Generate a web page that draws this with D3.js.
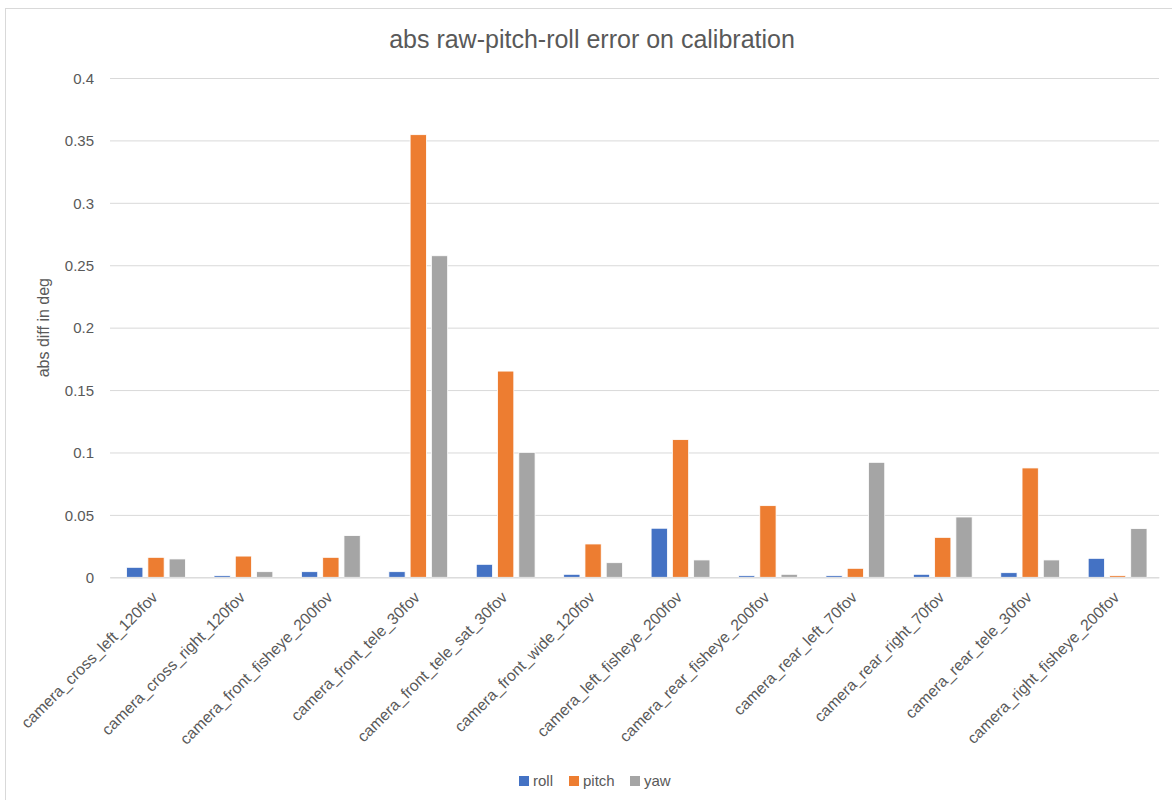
<!DOCTYPE html>
<html>
<head>
<meta charset="utf-8">
<script src="https://cdn.jsdelivr.net/npm/d3@7"></script>
<style>
  html, body { margin: 0; padding: 0; background: #fff; }
  svg { display: block; }
  text { font-family: "Liberation Sans", Arial, sans-serif; fill: #595959; }
</style>
</head>
<body>
<svg id="chart" width="1172" height="800"></svg>
<script>
const categories = [
  "camera_cross_left_120fov",
  "camera_cross_right_120fov",
  "camera_front_fisheye_200fov",
  "camera_front_tele_30fov",
  "camera_front_tele_sat_30fov",
  "camera_front_wide_120fov",
  "camera_left_fisheye_200fov",
  "camera_rear_fisheye_200fov",
  "camera_rear_left_70fov",
  "camera_rear_right_70fov",
  "camera_rear_tele_30fov",
  "camera_right_fisheye_200fov"
];
const seriesNames = ["roll", "pitch", "yaw"];
const roll  = [0.008, 0.0013, 0.0045, 0.0045, 0.0104, 0.0024, 0.0393, 0.0013, 0.0013, 0.0024, 0.0037, 0.0152];
const pitch = [0.016, 0.017, 0.016, 0.3546, 0.1652, 0.0267, 0.1103, 0.0574, 0.0072, 0.032, 0.0876, 0.0013];
const yaw   = [0.0147, 0.0045, 0.0334, 0.2576, 0.1001, 0.0117, 0.0139, 0.0024, 0.0921, 0.0483, 0.0139, 0.039];
const yTicks = [0, 0.05, 0.1, 0.15, 0.2, 0.25, 0.3, 0.35, 0.4];
const yTickLabels = ["0", "0.05", "0.1", "0.15", "0.2", "0.25", "0.3", "0.35", "0.4"];
const colors = ["#4472C4", "#ED7D31", "#A5A5A5"];
const title = "abs raw-pitch-roll error on calibration";
const yTitle = "abs diff in deg";

const values = [roll, pitch, yaw];
const svg = d3.select("#chart");

// outer frame
svg.append("rect").attr("x", 5.5).attr("y", 8.5).attr("width", 1180).attr("height", 800)
  .attr("fill", "none").attr("stroke", "#d9d9d9").attr("stroke-width", 1);

const plot = { left: 110, right: 1159, top: 78, bottom: 577.3 };

const x = d3.scaleBand().domain(categories).range([plot.left, plot.right]).paddingInner(0).paddingOuter(0);
const y = d3.scaleLinear().domain([0, 0.4]).range([plot.bottom, plot.top]);
const barW = 15, barStep = 19.6;
const xs = d3.scaleBand().domain(seriesNames).range([0, barStep * 3]).paddingInner((barStep - barW) / barStep).paddingOuter(0);

// gridlines
const yAxis = d3.axisLeft(y).tickValues(yTicks).tickFormat((d, i) => yTickLabels[i])
  .tickSize(-(plot.right - plot.left)).tickPadding(16);
const gy = svg.append("g").attr("transform", `translate(${plot.left},0)`).call(yAxis);
gy.select(".domain").remove();
gy.selectAll(".tick line").attr("stroke", "#d9d9d9").attr("stroke-width", 1);
gy.selectAll(".tick text").style("font-size", "15px").attr("fill", "#595959").attr("dy", "0.35em");

// bars
const groupW = barStep * 2 + barW;
categories.forEach((c, ci) => {
  const g0 = x(c) + x.bandwidth() / 2 - groupW / 2;
  seriesNames.forEach((s, si) => {
    const v = values[si][ci];
    svg.append("rect")
      .attr("x", g0 + xs(s))
      .attr("y", y(v))
      .attr("width", xs.bandwidth())
      .attr("height", plot.bottom - y(v))
      .attr("fill", colors[si])
      .attr("stroke", "#fff").attr("stroke-width", 0.8);
  });
});

// x axis baseline
const xAxis = d3.axisBottom(x).tickSize(0).tickPadding(0);
const gx = svg.append("g").attr("transform", `translate(0,${plot.bottom})`).call(xAxis);
gx.select(".domain").attr("stroke", "#d9d9d9");
gx.selectAll(".tick text")
  .style("font-size", "15.8px")
  .attr("fill", "#595959")
  .attr("text-anchor", "end")
  .attr("dy", 0).attr("y", 0)
  .attr("transform", "translate(5,21) rotate(-45)");

// title
svg.append("text").attr("x", 592).attr("y", 48).attr("text-anchor", "middle")
  .style("font-size", "25px").text(title);

// y title
svg.append("text").attr("transform", `translate(49,${y(0.2)}) rotate(-90)`)
  .attr("text-anchor", "middle").style("font-size", "16px").text(yTitle);

// legend
const legendX = [519, 569, 630];
const lg = svg.append("g");
seriesNames.forEach((s, i) => {
  lg.append("rect").attr("x", legendX[i]).attr("y", 776).attr("width", 10).attr("height", 10).attr("fill", colors[i]);
  lg.append("text").attr("x", legendX[i] + 14).attr("y", 786).style("font-size", "15px").text(s);
});
</script>
</body>
</html>
